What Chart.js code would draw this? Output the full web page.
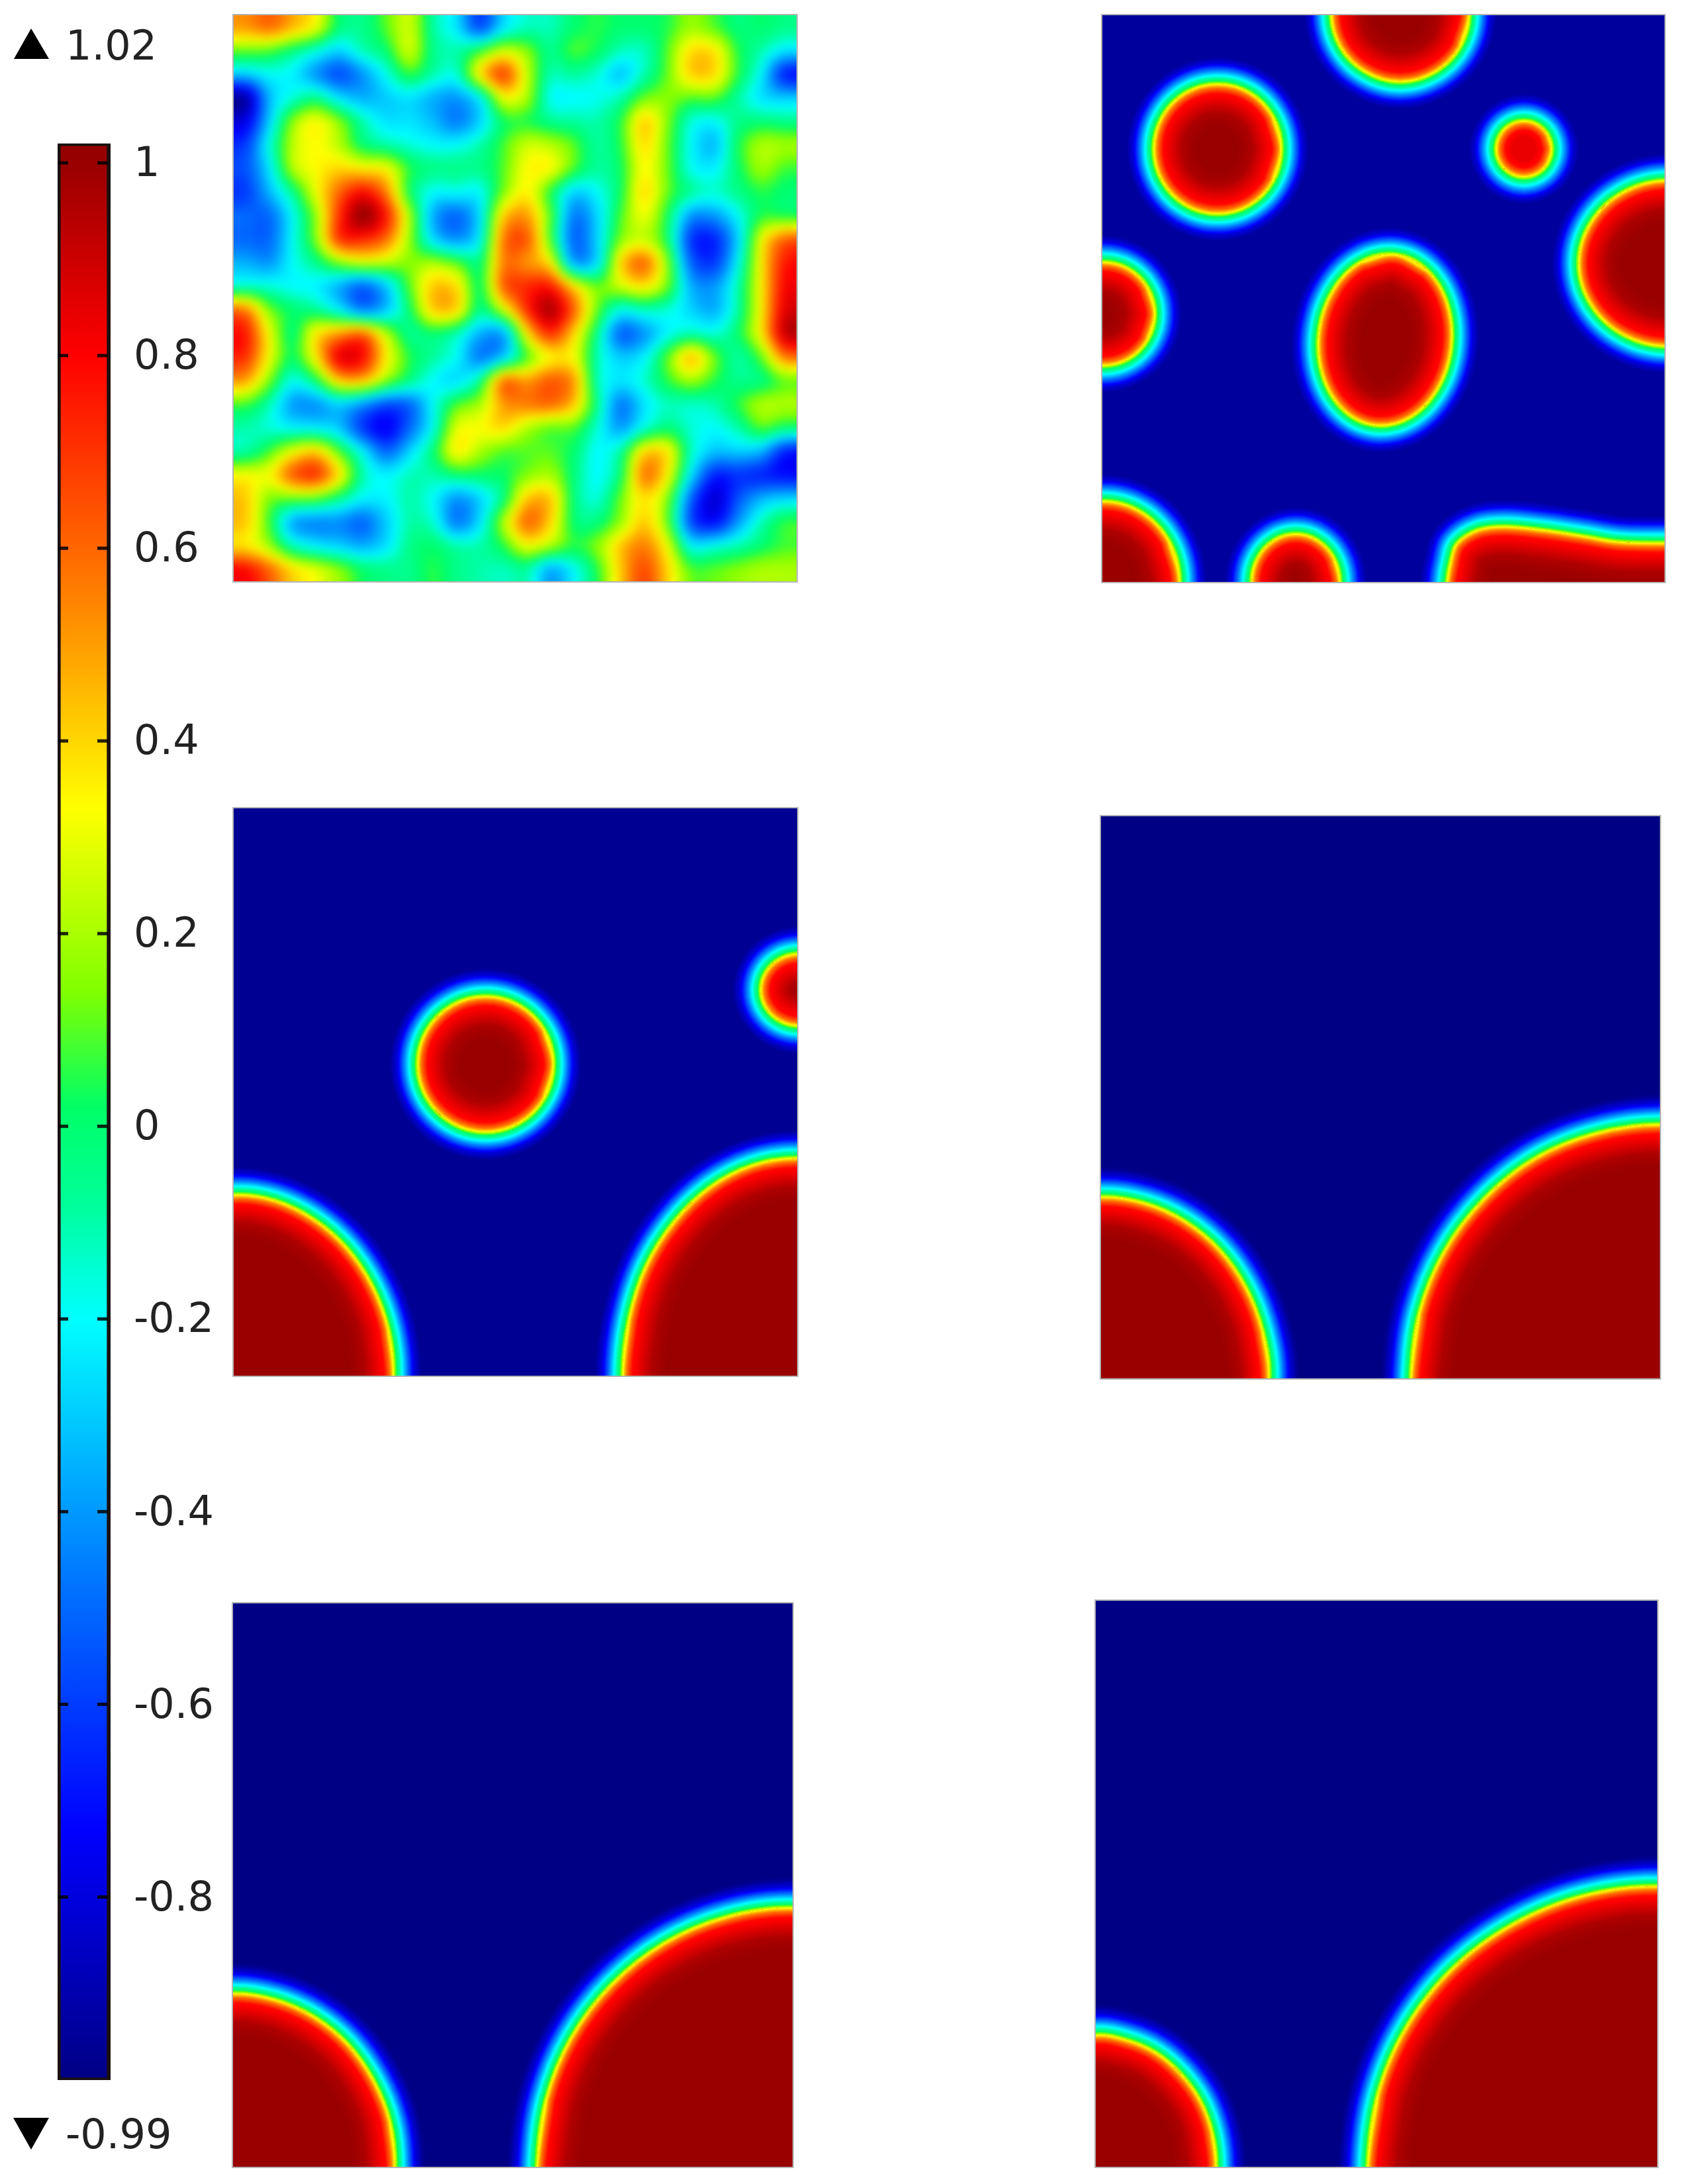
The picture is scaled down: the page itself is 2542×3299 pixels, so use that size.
<!DOCTYPE html>
<html>
<head>
<meta charset="utf-8">
<title>Phase field panels</title>
<script src="https://cdn.jsdelivr.net/npm/chart.js@4"></script>
<style>
  html, body { margin: 0; background: #fff; width: 2542px; height: 3299px; overflow: hidden; }
  canvas { position: absolute; }
  .panel { outline: 2px solid rgba(150,150,150,0.7); }
</style>
</head>
<body>
<canvas id="colorbar" style="left:0;top:0" width="340" height="3299"></canvas>
<canvas id="panel1" class="panel" style="left:353px;top:23px" width="850" height="855"></canvas>
<canvas id="panel2" class="panel" style="left:1665px;top:23px" width="849" height="856"></canvas>
<canvas id="panel3" class="panel" style="left:353px;top:1221px" width="851" height="857"></canvas>
<canvas id="panel4" class="panel" style="left:1663px;top:1233px" width="844" height="849"></canvas>
<canvas id="panel5" class="panel" style="left:352px;top:2422px" width="845" height="851"></canvas>
<canvas id="panel6" class="panel" style="left:1655px;top:2418px" width="848" height="855"></canvas>
<script>
// colour scale, value -> colour
const colorValues = [-0.99, -0.73, -0.45, -0.2, -0.08, 0.02, 0.14, 0.33, 0.55, 0.8, 1, 1.02];
const colorStops = ['#000084', '#0000ff', '#0080ff', '#00ffff', '#00ff99', '#00ff66', '#80ff00', '#ffff00', '#ff8000', '#ff0000', '#990000', '#930000'];

const tickValues = [1, 0.8, 0.6, 0.4, 0.2, 0, -0.2, -0.4, -0.6, -0.8];
const tickLabels = ['1', '0.8', '0.6', '0.4', '0.2', '0', '-0.2', '-0.4', '-0.6', '-0.8'];
const rangeMax = 1.02;
const rangeMin = -0.99;

// interface profile: distance from the yellow contour (px) -> field value
const bandOffsets = [-66, -44, -28, -14, -6, 0, 6, 14, 32, 44];
const bandValues = [1, 0.96, 0.86, 0.78, 0.58, 0.33, 0.02, -0.2, -0.8, -0.97];

// first panel: field read on a 24 x 24 grid, value x 100
const noiseGrid = [
  [50,58,45,30,-2,-5,10,25,-8,-25,-55,-25,-12,-12,0,5,0,0,5,18,10,-2,0,-5],
  [12,10,-2,-15,-28,-12,0,25,-5,-10,5,25,15,-5,8,2,-12,-12,10,38,36,5,-10,-25],
  [-30,-20,-22,-40,-55,-40,-18,5,-10,-15,35,65,25,-10,-8,-15,-30,-10,12,40,38,5,-22,-65],
  [-90,-35,-15,-5,-25,-35,-30,-25,-35,-40,-20,30,20,-18,-20,-18,-10,12,15,10,10,-8,-25,-30],
  [-78,-30,15,32,15,-10,-25,-25,-33,-45,-28,2,5,-5,-8,-10,5,40,15,-15,-20,-5,-2,-5],
  [-60,-18,22,33,22,0,-8,-15,-20,-20,-10,8,25,22,10,-8,5,38,12,-20,-32,2,20,18],
  [-55,-25,20,33,40,36,32,5,-5,-5,-5,10,33,32,8,-8,2,33,12,-18,-22,0,18,8],
  [-60,-35,-5,30,60,78,55,2,-20,-20,-20,15,35,5,-28,-20,2,38,12,-8,-15,-5,5,0],
  [-50,-50,-20,18,70,100,75,20,-35,-50,-25,40,50,10,-45,-28,8,30,2,-40,-40,-20,5,5],
  [-50,-50,-20,15,68,72,58,18,-25,-40,-20,55,62,10,-50,-28,15,25,0,-60,-65,-28,30,60],
  [-35,-40,-20,-5,15,25,22,15,20,10,-2,55,52,35,-35,-25,38,58,15,-50,-60,-20,35,75],
  [-12,-15,-20,-22,-35,-50,-30,10,42,38,2,60,72,75,38,12,25,35,12,-35,-40,-10,35,80],
  [55,15,0,-5,-20,-42,-30,0,40,38,-5,25,70,95,60,12,-18,-12,-15,-28,-35,-8,35,85],
  [75,32,0,35,50,58,22,-5,0,-10,-35,-35,35,70,40,-5,-50,-40,-20,-10,-15,0,35,90],
  [70,32,2,35,82,78,35,5,-8,-20,-45,-28,10,35,32,-10,-30,-22,10,42,12,-8,12,55],
  [48,15,-18,0,40,42,15,-5,-20,-25,-5,55,50,62,50,-10,-25,-15,5,18,5,-5,-2,12],
  [8,-10,-38,-40,-28,-40,-55,-50,-20,8,20,50,55,58,42,-5,-45,-25,-12,-13,-10,5,20,20],
  [-10,-15,-20,-22,-30,-60,-75,-50,-18,28,32,38,22,12,10,-15,-38,-15,-2,-15,-20,-10,8,-2],
  [-8,8,30,40,10,-22,-50,-28,-2,33,20,10,10,10,0,-20,-8,38,35,-12,-32,-30,-35,-65],
  [32,32,60,68,35,-10,-22,-12,-10,-2,0,2,15,20,-2,-20,0,55,33,-25,-65,-62,-65,-70],
  [42,15,12,10,-5,-22,-22,-10,-20,-40,-28,-2,42,42,-2,-15,12,38,15,-50,-82,-55,-35,-28],
  [42,8,-35,-42,-42,-50,-30,-10,-15,-45,-25,20,58,40,0,-2,18,42,12,-55,-70,-40,-12,5],
  [38,20,-10,-22,-28,-35,-25,-5,0,-10,-10,5,30,20,5,15,42,55,30,-20,-18,-10,0,8],
  [78,60,38,28,15,0,-5,-5,5,-5,-10,-12,-8,-35,-20,5,42,65,40,10,10,15,20,20]
];

// yellow contours of the droplets, x and y in percent of the panel
const panel2Contours = [
  [[65.25,100.5],[63.6,106.6],[59.1,111],[53,112.7],[46.9,111],[42.4,106.6],[40.75,100.5],[42.4,94.4],[46.9,90],[53,88.3],[59.1,90],[63.6,94.4]],
  [[31.8,76.4],[30.3,82.1],[26.15,86.3],[20.5,87.8],[14.85,86.3],[10.7,82.1],[9.2,76.4],[10.7,70.7],[14.85,66.5],[20.5,65],[26.15,66.5],[30.3,70.7]],
  [[79.9,76.4],[79.24,78.85],[77.45,80.64],[75,81.3],[72.55,80.64],[70.76,78.85],[70.1,76.4],[70.76,73.95],[72.55,72.16],[75,71.5],[77.45,72.16],[79.24,73.95]],
  [[116.8,56.2],[114.6,63.5],[108.8,68.8],[100.8,70.8],[92.8,68.8],[87,63.5],[84.8,56.2],[87,48.9],[92.8,43.6],[100.8,41.6],[108.8,43.6],[114.6,48.9]],
  [[9.3,47.3],[8.05,51.85],[4.65,55.2],[0,56.4],[-4.65,55.2],[-8.05,51.85],[-9.3,47.3],[-8.05,42.75],[-4.65,39.4],[0,38.2],[4.65,39.4],[8.05,42.75]],
  [[52.1,57.7],[57.73,54.98],[61.36,48.97],[62.02,41.28],[59.54,33.97],[54.59,29],[48.49,27.7],[42.87,30.42],[39.24,36.43],[38.58,44.12],[41.06,51.43],[46.01,56.4]],
  [[13.7,0],[11.86,7.1],[6.85,12.3],[0,14.2],[-6.85,12.3],[-11.86,7.1],[-13.7,0],[-11.86,-7.1],[-6.85,-12.3],[0,-14.2],[6.85,-12.3],[11.86,-7.1]],
  [[42.2,0],[41.15,4.2],[38.3,7.27],[34.4,8.4],[30.5,7.27],[27.65,4.2],[26.6,0],[27.65,-4.2],[30.5,-7.27],[34.4,-8.4],[38.3,-7.27],[41.15,-4.2]],
  [[61.4,0],[62,3.5],[63.1,6.7],[66.8,9.1],[71.6,9.7],[78.3,9.1],[85.1,8.1],[91.9,7],[100,6.8],[110,6.8],[112,-10],[70,-12],[61,-8]]
];
const panel2Peaks = [1, 1, 0.84, 1, 1, 1, 1, 1, 1];

const panel3Contours = [
  [[56.7,54.9],[55.1,60.85],[50.7,65.2],[44.7,66.8],[38.7,65.2],[34.3,60.85],[32.7,54.9],[34.3,48.95],[38.7,44.6],[44.7,43],[50.7,44.6],[55.1,48.95]],
  [[107.4,68],[106.5,71.15],[104,73.46],[100.5,74.3],[97,73.46],[94.5,71.15],[93.6,68],[94.5,64.85],[97,62.54],[100.5,61.7],[104,62.54],[106.5,64.85]],
  [[28.3,0],[27.4,8.2],[24.5,15.9],[20,22.5],[14.2,27.5],[7.35,30.8],[0,31.8],[-8,30],[-15,15],[-10,-12],[10,-15],[27,-6]],
  [[69.1,0],[70.2,9.9],[73.2,19.2],[78.2,27.1],[84.6,33.2],[92,37],[100,38.3],[108,37],[115,20],[110,-10],[85,-15],[70,-7]]
];
const panel3Peaks = [1, 1, 1, 1];

const panel4Contours = [
  [[30,0],[28.9,8.3],[25.9,16.1],[21.2,22.8],[15,27.9],[7.8,31.1],[0,32.2],[-8,30.5],[-15,15],[-10,-12],[10,-15],[28,-6]],
  [[55.5,0],[57,11.6],[61.5,22.6],[68.6,31.9],[77.7,39.1],[88.5,43.5],[100,45.1],[108,43.5],[115,25],[110,-10],[75,-15],[56,-7]]
];
const panel5Contours = [
  [[28.9,0],[28,8],[25,15.4],[20.5,21.7],[14.4,26.6],[7.5,29.6],[0,30.7],[-8,29],[-15,15],[-10,-12],[10,-15],[28,-6]],
  [[54.4,0],[56,11.9],[60.5,22.9],[67.8,32.4],[77.2,39.7],[88.2,44.3],[100,45.9],[108,44],[115,25],[110,-10],[75,-15],[55,-7]]
];
const panel6Contours = [
  [[21.4,0],[20.7,6],[18.6,11.6],[15.1,16.4],[10.7,20.1],[5.6,22.3],[0,23.2],[-8,21],[-13,10],[-9,-12],[8,-15],[20.5,-6]],
  [[48.5,0],[50.3,12.8],[55.4,24.7],[63.6,35],[74.3,42.8],[86.7,47.8],[100,49.5],[108,47.5],[115,25],[110,-10],[70,-15],[49.5,-7]]
];

function hexToRgb(h) {
  return [parseInt(h.substr(1, 2), 16), parseInt(h.substr(3, 2), 16), parseInt(h.substr(5, 2), 16)];
}
const stopRgb = colorStops.map(hexToRgb);

function valueToRgb(v) {
  if (v <= colorValues[0]) return stopRgb[0];
  for (let i = 1; i < colorValues.length; i++) {
    if (v <= colorValues[i]) {
      const t = (v - colorValues[i - 1]) / (colorValues[i] - colorValues[i - 1]);
      const a = stopRgb[i - 1], b = stopRgb[i];
      return [a[0] + (b[0] - a[0]) * t, a[1] + (b[1] - a[1]) * t, a[2] + (b[2] - a[2]) * t];
    }
  }
  return stopRgb[stopRgb.length - 1];
}
function valueToCss(v) {
  const c = valueToRgb(v);
  return 'rgb(' + Math.round(c[0]) + ',' + Math.round(c[1]) + ',' + Math.round(c[2]) + ')';
}
function bandValue(d) {
  if (d <= bandOffsets[0]) return bandValues[0];
  for (let i = 1; i < bandOffsets.length; i++) {
    if (d <= bandOffsets[i]) {
      const t = (d - bandOffsets[i - 1]) / (bandOffsets[i] - bandOffsets[i - 1]);
      return bandValues[i - 1] + (bandValues[i] - bandValues[i - 1]) * t;
    }
  }
  return bandValues[bandValues.length - 1];
}

// repeat the ends so that the spline closes smoothly
function closeLoop(points) {
  const n = points.length;
  const loop = [points[n - 1]].concat(points, [points[0], points[1]]);
  return loop.map(function (p) { return { x: p[0], y: p[1] }; });
}

// paints the band around each contour, using the line elements the chart laid out
const dropletPlugin = {
  id: 'droplets',
  beforeDatasetsDraw(chart, args, opts) {
    const ctx = chart.ctx, area = chart.chartArea;
    ctx.save();
    ctx.beginPath();
    ctx.rect(area.left, area.top, area.right - area.left, area.bottom - area.top);
    ctx.clip();
    ctx.fillStyle = valueToCss(opts.base);
    ctx.fillRect(area.left, area.top, area.right - area.left, area.bottom - area.top);
    ctx.lineJoin = 'round';
    ctx.lineCap = 'round';
    const lines = chart.data.datasets.map(function (ds, i) {
      const line = chart.getDatasetMeta(i).dataset;
      line.updateControlPoints(area);
      return line;
    });
    // outer halo first, all droplets
    lines.forEach(function (line) {
      for (let d = 46; d >= 1; d--) {
        ctx.beginPath();
        line.path(ctx);
        ctx.lineWidth = d * 2;
        ctx.strokeStyle = valueToCss(Math.max(bandValue(d), opts.base));
        ctx.stroke();
      }
    });
    // then the inside, clipped to the contour
    lines.forEach(function (line, i) {
      const peak = opts.peaks ? opts.peaks[i] : 1;
      ctx.save();
      ctx.beginPath();
      line.path(ctx);
      ctx.clip();
      ctx.fillStyle = valueToCss(peak);
      ctx.fillRect(area.left, area.top, area.right - area.left, area.bottom - area.top);
      for (let d = 68; d >= 1; d--) {
        ctx.beginPath();
        line.path(ctx);
        ctx.lineWidth = d * 2;
        ctx.strokeStyle = valueToCss(Math.min(bandValue(-d), peak));
        ctx.stroke();
      }
      ctx.restore();
    });
    ctx.restore();
  }
};

function catmull(a, b, c, d, t) {
  return b + 0.5 * t * (c - a + t * (2 * a - 5 * b + 4 * c - d + t * (3 * (b - c) + d - a)));
}
function gridAt(row, col) {
  const r = Math.max(0, Math.min(noiseGrid.length - 1, row));
  const c = Math.max(0, Math.min(noiseGrid[0].length - 1, col));
  return noiseGrid[r][c] / 100;
}
function sampleGrid(u, v) {
  // u, v in cell units, cell centres at i + 0.5
  const x = u - 0.5, y = v - 0.5;
  const c0 = Math.floor(x), r0 = Math.floor(y);
  const tx = x - c0, ty = y - r0;
  const rows = [];
  for (let r = -1; r <= 2; r++) {
    rows.push(catmull(gridAt(r0 + r, c0 - 1), gridAt(r0 + r, c0), gridAt(r0 + r, c0 + 1), gridAt(r0 + r, c0 + 2), tx));
  }
  return catmull(rows[0], rows[1], rows[2], rows[3], ty);
}

// raster of the grid placed through the chart's scales
const fieldPlugin = {
  id: 'field',
  beforeDatasetsDraw(chart) {
    const xs = chart.scales.x, ys = chart.scales.y, ctx = chart.ctx;
    const size = 426;
    const off = document.createElement('canvas');
    off.width = size; off.height = size;
    const oc = off.getContext('2d');
    const img = oc.createImageData(size, size);
    for (let j = 0; j < size; j++) {
      for (let i = 0; i < size; i++) {
        const v = sampleGrid((i + 0.5) / size * 24, (j + 0.5) / size * 24);
        const c = valueToRgb(v);
        const k = (j * size + i) * 4;
        img.data[k] = c[0]; img.data[k + 1] = c[1]; img.data[k + 2] = c[2]; img.data[k + 3] = 255;
      }
    }
    oc.putImageData(img, 0, 0);
    const x0 = xs.getPixelForValue(0), x1 = xs.getPixelForValue(24);
    const y0 = ys.getPixelForValue(0), y1 = ys.getPixelForValue(24);
    ctx.save();
    ctx.imageSmoothingEnabled = true;
    ctx.drawImage(off, x0, y0, x1 - x0, y1 - y0);
    ctx.filter = 'blur(7px)';
    ctx.drawImage(off, x0, y0, x1 - x0, y1 - y0);
    ctx.restore();
  }
};

function baseOptions(reverseY, max) {
  return {
    animation: false,
    responsive: false,
    devicePixelRatio: 1,
    layout: { padding: 0 },
    scales: {
      x: { display: false, type: 'linear', min: 0, max: max },
      y: { display: false, type: 'linear', min: 0, max: max, reverse: reverseY }
    },
    plugins: { legend: { display: false }, tooltip: { enabled: false } }
  };
}

function dropletChart(id, contours, peaks, base) {
  const options = baseOptions(false, 100);
  options.plugins.droplets = { base: base, peaks: peaks };
  return new Chart(document.getElementById(id), {
    type: 'scatter',
    data: {
      datasets: contours.map(function (c) {
        return {
          data: closeLoop(c),
          showLine: true,
          tension: 0.35,
          capBezierPoints: false,
          pointRadius: 0,
          borderWidth: 1,
          borderColor: valueToCss(0.33),
          clip: 0
        };
      })
    },
    options: options,
    plugins: [dropletPlugin]
  });
}

new Chart(document.getElementById('panel1'), {
  type: 'scatter',
  data: { datasets: [] },
  options: baseOptions(true, 24),
  plugins: [fieldPlugin]
});

dropletChart('panel2', panel2Contours, panel2Peaks, -0.94);
dropletChart('panel3', panel3Contours, panel3Peaks, -0.96);
dropletChart('panel4', panel4Contours, null, -0.99);
dropletChart('panel5', panel5Contours, null, -0.99);
dropletChart('panel6', panel6Contours, null, -0.99);

// colour bar
const barDecor = {
  id: 'barDecor',
  afterDatasetsDraw(chart) {
    const ctx = chart.ctx, area = chart.chartArea, ys = chart.scales.y;
    ctx.save();
    ctx.fillStyle = 'rgba(0,0,0,0.85)';
    tickValues.forEach(function (v) {
      const y = ys.getPixelForValue(v);
      ctx.fillRect(area.left, y - 2.5, 16, 5);
      ctx.fillRect(area.right - 20, y - 2.5, 16, 5);
    });
    // range markers
    ctx.fillStyle = '#000';
    ctx.beginPath();
    ctx.moveTo(47, 43); ctx.lineTo(74, 89); ctx.lineTo(21, 89);
    ctx.closePath(); ctx.fill();
    ctx.beginPath();
    ctx.moveTo(20, 3199); ctx.lineTo(74, 3199); ctx.lineTo(47, 3247);
    ctx.closePath(); ctx.fill();
    ctx.fillStyle = '#222';
    ctx.font = '62px "DejaVu Sans"';
    ctx.textBaseline = 'alphabetic';
    ctx.textAlign = 'left';
    ctx.fillText(String(rangeMax), 99, 90);
    ctx.fillText(String(rangeMin), 99, 3245);
    ctx.restore();
  }
};

new Chart(document.getElementById('colorbar'), {
  type: 'bar',
  data: {
    labels: [''],
    datasets: [{
      data: [[rangeMin, rangeMax]],
      barPercentage: 1,
      categoryPercentage: 1,
      borderWidth: { left: 5, right: 6, top: 4, bottom: 4 },
      borderSkipped: false,
      borderColor: '#1a1010',
      backgroundColor: function (c) {
        const chart = c.chart;
        if (!chart.chartArea) return '#000';
        const ys = chart.scales.y;
        const g = chart.ctx.createLinearGradient(0, ys.getPixelForValue(rangeMin), 0, ys.getPixelForValue(rangeMax));
        colorValues.forEach(function (v, i) {
          g.addColorStop((v - rangeMin) / (rangeMax - rangeMin), colorStops[i]);
        });
        return g;
      }
    }]
  },
  options: {
    animation: false,
    responsive: false,
    devicePixelRatio: 1,
    layout: { padding: { left: 87, top: 213, bottom: 157, right: 0 } },
    scales: {
      x: { display: false },
      y: {
        position: 'right',
        min: rangeMin,
        max: 1.0227,
        border: { display: false },
        grid: { display: false, drawTicks: false },
        afterBuildTicks: function (scale) {
          scale.ticks = tickValues.map(function (v) { return { value: v }; });
        },
        afterFit: function (scale) { scale.width = 173; },
        ticks: {
          autoSkip: false,
          padding: 35,
          labelOffset: 4,
          color: '#222',
          font: { family: '"DejaVu Sans"', size: 62 },
          callback: function (value) { return tickLabels[tickValues.indexOf(value)]; }
        }
      }
    },
    plugins: { legend: { display: false }, tooltip: { enabled: false } }
  },
  plugins: [barDecor]
});
</script>
</body>
</html>
